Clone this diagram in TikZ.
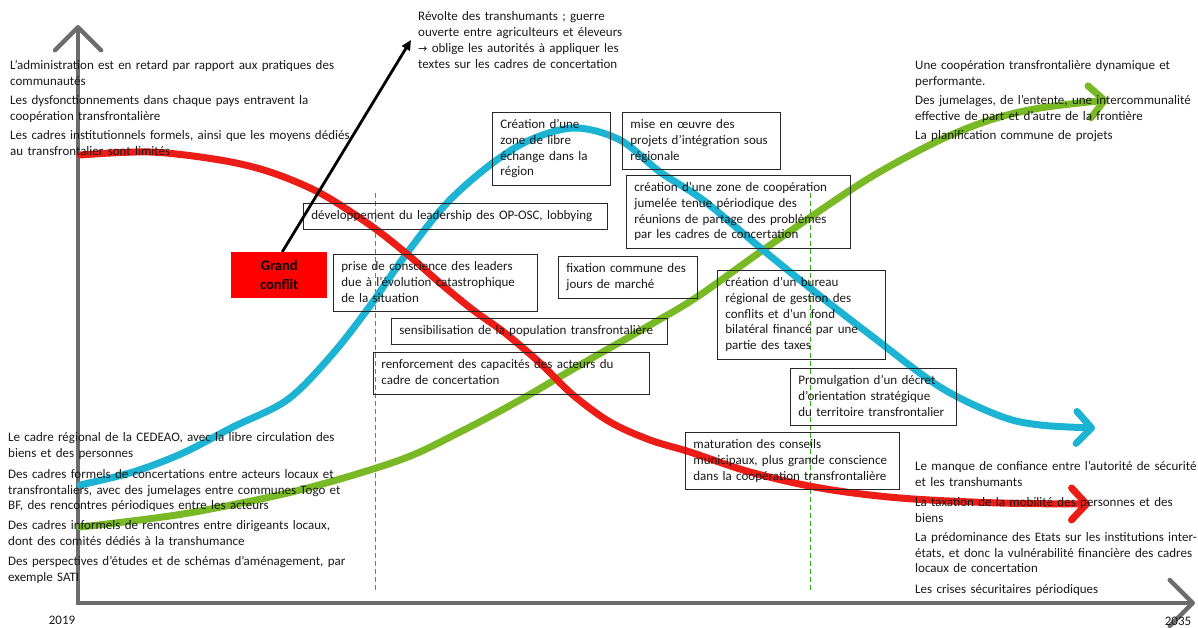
\documentclass[tikz,border=0pt]{standalone}
\usepackage{fontspec}
\setmainfont{Carlito}
\newfontfamily\symfont{DejaVu Sans}
\usetikzlibrary{arrows.meta}
\definecolor{cred}{RGB}{236,28,22}
\definecolor{cboxred}{RGB}{255,0,0}
\definecolor{ccyan}{RGB}{28,180,210}
\definecolor{cgreen}{RGB}{122,185,38}
\definecolor{caxis}{RGB}{108,108,108}
\definecolor{cdash}{RGB}{60,165,30}
\definecolor{ctext}{RGB}{25,25,25}
\newcommand\txtfont{\fontsize{13}{15.8}\selectfont}
\newcommand\toptxtfont{\fontsize{13}{16.2}\selectfont}
\begin{document}
\begin{tikzpicture}[x=1pt,y=-1pt,
  ptext/.style={font=\txtfont, text=ctext, align=left, inner sep=0pt, anchor=north west, text width=#1,
    execute at begin node=\strut, execute at end node=\strut},
  tbox/.style={draw=black!85, line width=0.8pt, font=\txtfont, text=ctext, align=left, inner xsep=8pt, inner ysep=5pt,
    anchor=north west, text width=#1, execute at begin node=\strut, execute at end node=\strut},
  curve/.style={line width=7pt, line cap=round},
  barb/.style={-{Straight Barb[length=15pt,width=32pt,round]}},
  axisline/.style={caxis, line width=4.5pt},
  guide/.style={cdash, line width=1.1pt, dash pattern=on 5pt off 3pt},
  year/.style={font=\txtfont, text=ctext, inner sep=0pt}
]
\useasboundingbox (0,0) rectangle (1198,628);
% axes
\draw[axisline, {Straight Barb[length=23pt,width=46pt,round]}-{Straight Barb[length=23pt,width=46pt,round]}]
  (78,25) -- (78,603) -- (1195,603);
\node[year] (y2019) at (62,620) {2019};
\node[year] (y2035) at (1178,621) {2035};
% dashed guides
\draw[guide] (375.5,193) -- (375.5,590);
\draw[guide] (810.5,193) -- (810.5,590);
% curves
\draw[curve, cgreen, barb] plot[smooth, tension=0.55] coordinates {
  (80,527) (140,520) (200,511) (300,490) (400,460) (460,432) (520,400) (580,365) (650,325)
  (697,297) (763,250) (840,197) (883,170) (940,140) (990,120) (1040,108) (1108,100)};
\draw[curve, ccyan, barb] plot[smooth, tension=0.55] coordinates {
  (80,485) (133,472) (183,453) (233,427) (287,400) (330,357) (367,310) (407,253) (447,203)
  (490,165) (530,140) (575,128) (620,140) (660,172) (703,200) (763,250) (820,296) (873,337)
  (940,387) (1000,416) (1040,425) (1095,428)};
\draw[curve, cred, barb] plot[smooth, tension=0.55] coordinates {
  (80,155) (150,152) (220,160) (270,172) (320,193) (370,225) (407,254) (440,283) (473,310)
  (505,333) (540,363) (573,395) (610,422) (650,440) (690,452) (750,472) (820,488) (900,498)
  (1000,503) (1090,504)};
% free texts
\node[ptext=345] (tl1) at (10,58) {L’administration est en retard par rapport aux pratiques des\\communautés};
\node[ptext=345] (tl2) at (10,93) {Les dysfonctionnements dans chaque pays entravent la\\coopération transfrontalière};
\node[ptext=345] (tl3) at (10,128) {Les cadres institutionnels formels, ainsi que les moyens dédiés\\au transfrontalier sont limités};
\node[ptext=230, font=\toptxtfont] (tm) at (418,8.5) {Révolte des transhumants ; guerre\\ouverte entre agriculteurs et éleveurs\\{\symfont\fontsize{11}{16.2}\selectfont →} oblige les autorités à appliquer les\\textes sur les cadres de concertation};
\node[ptext=283] (tr1) at (915,58) {Une coopération transfrontalière dynamique et\\performante.};
\node[ptext=283] (tr2) at (915,93) {Des jumelages, de l’entente, une intercommunalité\\effective de part et d’autre de la frontière};
\node[ptext=283] (tr3) at (915,128) {La planification commune de projets};
\node[ptext=350] (bl1) at (8,430) {Le cadre régional de la CEDEAO, avec la libre circulation des\\biens et des personnes};
\node[ptext=350] (bl2) at (8,467) {Des cadres formels de concertations entre acteurs locaux et\\transfrontaliers, avec des jumelages entre communes Togo et\\BF, des rencontres périodiques entre les acteurs};
\node[ptext=350] (bl3) at (8,518) {Des cadres informels de rencontres entre dirigeants locaux,\\dont des comités dédiés à la transhumance};
\node[ptext=350] (bl4) at (8,554) {Des perspectives d’études et de schémas d’aménagement, par\\exemple SATI};
\node[ptext=283] (br1) at (915,459) {Le manque de confiance entre l’autorité de sécurité\\et les transhumants};
\node[ptext=283] (br2) at (915,495) {La taxation de la mobilité des personnes et des\\biens};
\node[ptext=283] (br3) at (915,530) {La prédominance des Etats sur les institutions inter-\\états, et donc la vulnérabilité financière des cadres\\locaux de concertation};
\node[ptext=283] (br4) at (915,582) {Les crises sécuritaires périodiques};
% boxes
\node[tbox=102] (b1) at (492,112) {Création d’une\\zone de libre\\échange dans la\\région};
\node[tbox=142] (b2) at (622,112) {mise en œuvre des\\projets d’intégration sous\\régionale};
\node[tbox=208] (b3) at (626,175) {création d’une zone de coopération\\jumelée tenue périodique des\\réunions de partage des problèmes\\par les cadres de concertation};
\node[tbox=288] (b4) at (303,203) {développement du leadership des OP-OSC, lobbying};
\node[tbox=188] (b5) at (333,254) {prise de conscience des leaders\\due à l’évolution catastrophique\\de la situation};
\node[tbox=123] (b6) at (558,256) {fixation commune des\\jours de marché};
\node[tbox=152] (b7) at (717,270) {création d’un bureau\\régional de gestion des\\conflits et d’un fond\\bilatéral financé par une\\partie des taxes};
\node[tbox=260] (b8) at (391,318) {sensibilisation de la population transfrontalière};
\node[tbox=260] (b9) at (373,352) {renforcement des capacités des acteurs du\\cadre de concertation};
\node[tbox=150] (b10) at (790,368) {Promulgation d’un décret\\d’orientation stratégique\\du territoire transfrontalier};
\node[tbox=198] (b11) at (685,432) {maturation des conseils\\municipaux, plus grande conscience\\dans la coopération transfrontalière};
% grand conflit
\node[fill=cboxred, minimum width=96pt, minimum height=46pt, inner sep=0pt, anchor=north west,
  font=\fontsize{14.5}{19}\selectfont\bfseries, align=center] (gc) at (231,252) {Grand\\conflit};
\coordinate (revtip) at (411,40);
\draw[line width=2.8pt, -{Triangle[length=10pt,width=9pt]}] ([xshift=3pt]gc.north) -- (revtip);
\end{tikzpicture}
\end{document}
